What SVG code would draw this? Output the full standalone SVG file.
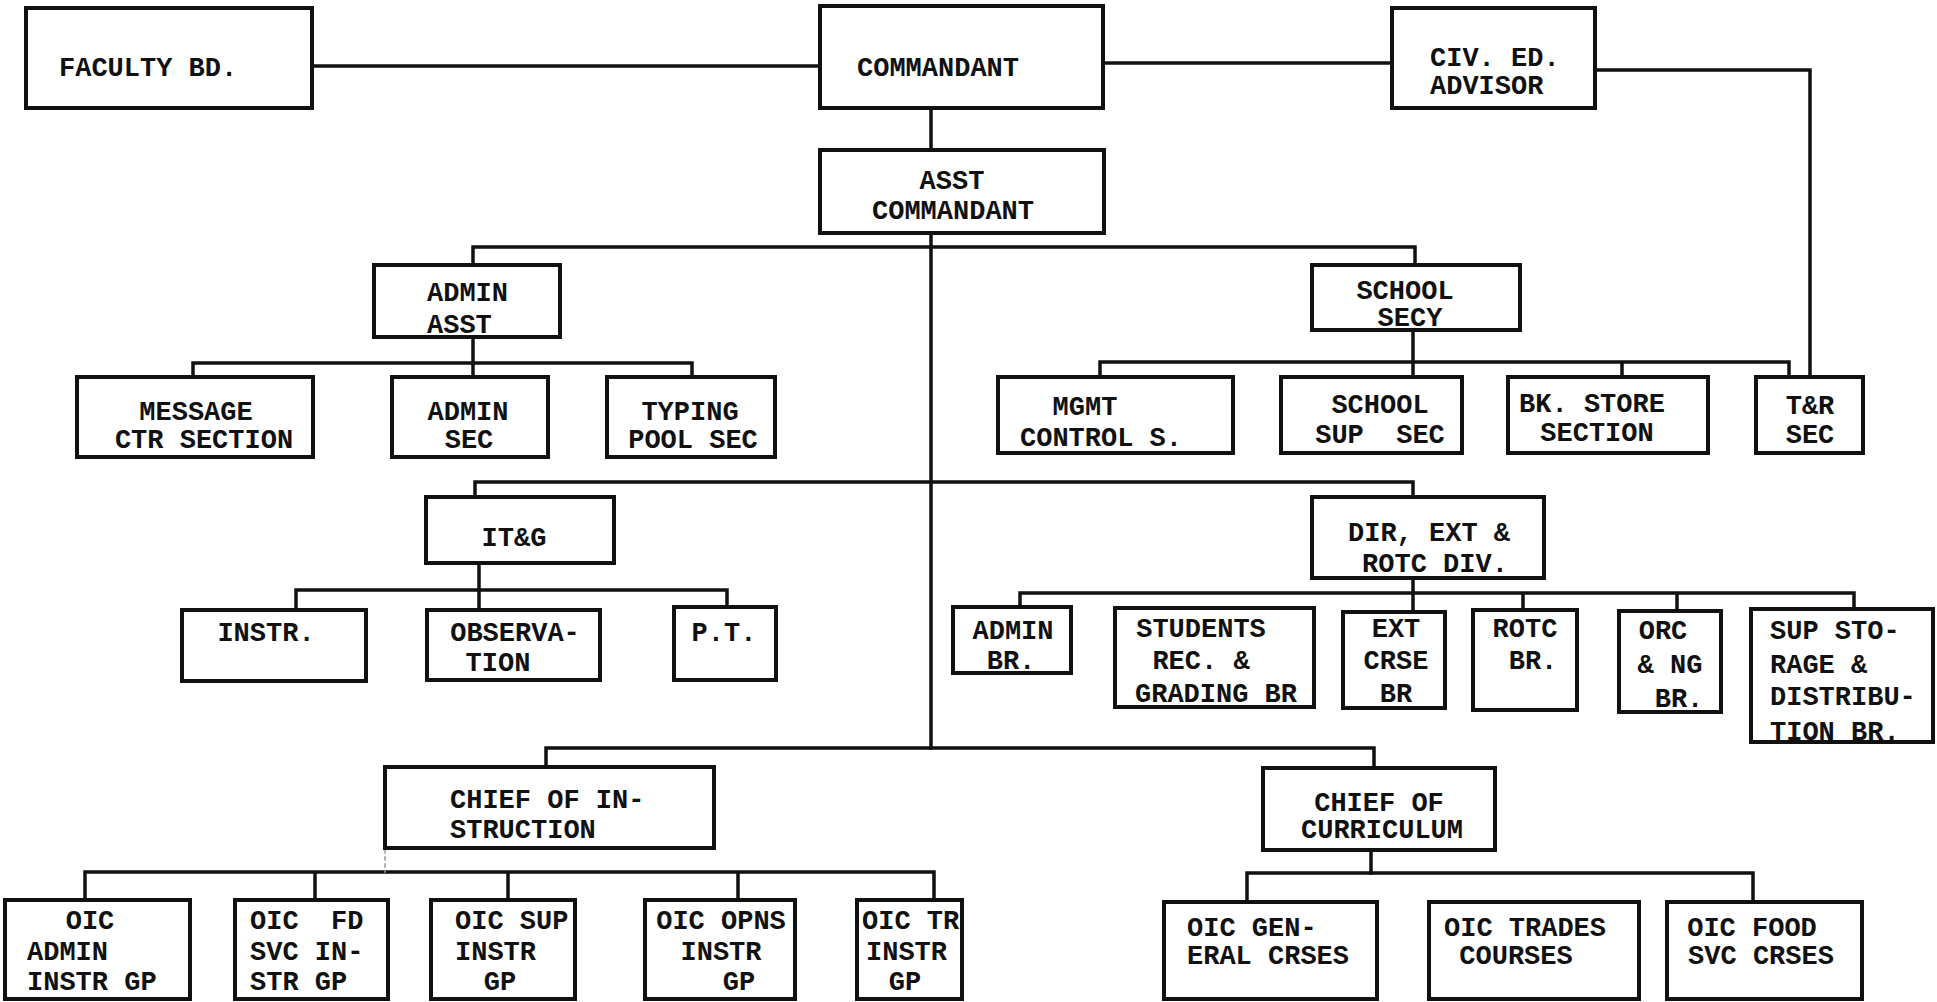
<svg xmlns="http://www.w3.org/2000/svg" width="1937" height="1002" viewBox="0 0 1937 1002">
<style>
rect.box{fill:#fff;stroke:#111;stroke-width:4}
.conn path{fill:none;stroke:#111;stroke-width:3.5;stroke-linecap:square}
text{font-family:"Liberation Mono","DejaVu Sans Mono",monospace;font-size:27px;font-weight:bold;fill:#111;white-space:pre}
.c{text-anchor:middle}
</style>
<rect width="1937" height="1002" fill="#fff"/>
<g class="conn" id="connectors">
<path d="M312,66 H820"/>
<path d="M1103,63 H1392"/>
<path d="M1595,70 H1810 V377"/>
<path d="M931,108 V150"/>
<path d="M931,233 V748"/>
<path d="M473,265 V247 H1415 V265"/>
<path d="M473,337 V363"/>
<path d="M193,377 V363 H692 V377 M473,363 V377"/>
<path d="M1413,330 V362"/>
<path d="M1100,377 V362 H1789 V377 M1413,362 V377 M1622,362 V377"/>
<path d="M475,497 V482 H1413 V497"/>
<path d="M479,563 V590"/>
<path d="M296,610 V590 H727 V607 M479,590 V610"/>
<path d="M1413,578 V612"/>
<path d="M1020,607 V593 H1854 V609 M1523,593 V610 M1677,593 V611"/>
<path d="M546,767 V748 H1374 V768"/>
<path d="M85,900 V872 H934 V900 M315,872 V900 M508,872 V900 M738,872 V900"/>
<path d="M1371,850 V873"/>
<path d="M1247,902 V873 H1753 V902"/>
<path d="M385,850 V872" style="stroke:#999;stroke-width:1.5;stroke-dasharray:3 4"/>
</g>
<g id="faculty"><rect class="box" x="26" y="8" width="286" height="100"/><text x="59" y="76">FACULTY BD.</text></g>
<g id="commandant"><rect class="box" x="820" y="6" width="283" height="102"/><text x="857" y="76">COMMANDANT</text></g>
<g id="civ"><rect class="box" x="1392" y="8" width="203" height="100"/><text x="1430" y="66">CIV. ED.</text><text x="1430" y="94">ADVISOR</text></g>
<g id="asst"><rect class="box" x="820" y="150" width="284" height="83"/><text class="c" x="952" y="189">ASST</text><text class="c" x="953" y="219">COMMANDANT</text></g>
<g id="admin_asst"><rect class="box" x="374" y="265" width="186" height="72"/><text x="427" y="301">ADMIN</text><text x="427" y="333">ASST</text></g>
<g id="message"><rect class="box" x="77" y="377" width="236" height="80"/><text class="c" x="196" y="420">MESSAGE</text><text class="c" x="204" y="448">CTR SECTION</text></g>
<g id="admin_sec"><rect class="box" x="392" y="377" width="156" height="80"/><text class="c" x="468" y="420">ADMIN</text><text class="c" x="469" y="448">SEC</text></g>
<g id="typing"><rect class="box" x="607" y="377" width="168" height="80"/><text class="c" x="690" y="420">TYPING</text><text class="c" x="693" y="448">POOL SEC</text></g>
<g id="school_secy"><rect class="box" x="1312" y="265" width="208" height="65"/><text class="c" x="1405" y="299">SCHOOL</text><text class="c" x="1410" y="326">SECY</text></g>
<g id="mgmt"><rect class="box" x="998" y="377" width="235" height="76"/><text class="c" x="1085" y="415">MGMT</text><text class="c" x="1101" y="446">CONTROL S.</text></g>
<g id="school_sup"><rect class="box" x="1281" y="377" width="181" height="76"/><text class="c" x="1380" y="413">SCHOOL</text><text class="c" x="1380" y="443">SUP  SEC</text></g>
<g id="bk_store"><rect class="box" x="1508" y="377" width="200" height="76"/><text class="c" x="1592" y="412">BK. STORE</text><text class="c" x="1597" y="441">SECTION</text></g>
<g id="tr_sec"><rect class="box" x="1756" y="377" width="107" height="76"/><text class="c" x="1810" y="414">T&amp;R</text><text class="c" x="1810" y="443">SEC</text></g>
<g id="itg"><rect class="box" x="426" y="497" width="188" height="66"/><text class="c" x="514" y="546">IT&amp;G</text></g>
<g id="instr"><rect class="box" x="182" y="610" width="184" height="71"/><text class="c" x="266" y="641">INSTR.</text></g>
<g id="observation"><rect class="box" x="427" y="610" width="173" height="70"/><text class="c" x="515" y="641">OBSERVA-</text><text class="c" x="498" y="671">TION</text></g>
<g id="pt"><rect class="box" x="674" y="607" width="102" height="73"/><text class="c" x="724" y="641">P.T.</text></g>
<g id="dir"><rect class="box" x="1312" y="497" width="232" height="81"/><text class="c" x="1429" y="541">DIR, EXT &amp;</text><text class="c" x="1435" y="572">ROTC DIV.</text></g>
<g id="admin_br"><rect class="box" x="953" y="607" width="118" height="66"/><text class="c" x="1013" y="639">ADMIN</text><text class="c" x="1011" y="669">BR.</text></g>
<g id="students"><rect class="box" x="1115" y="608" width="199" height="99"/><text class="c" x="1201" y="637">STUDENTS</text><text class="c" x="1201" y="669">REC. &amp;</text><text class="c" x="1216" y="702">GRADING BR</text></g>
<g id="ext"><rect class="box" x="1343" y="612" width="102" height="96"/><text class="c" x="1396" y="637">EXT</text><text class="c" x="1396" y="669">CRSE</text><text class="c" x="1396" y="702">BR</text></g>
<g id="rotc"><rect class="box" x="1473" y="610" width="104" height="100"/><text class="c" x="1525" y="637">ROTC</text><text class="c" x="1533" y="669">BR.</text></g>
<g id="orc"><rect class="box" x="1619" y="611" width="102" height="101"/><text class="c" x="1663" y="639">ORC</text><text class="c" x="1670" y="673">&amp; NG</text><text class="c" x="1679" y="707">BR.</text></g>
<g id="sup_storage"><rect class="box" x="1751" y="609" width="182" height="133"/><text x="1770" y="639">SUP STO-</text><text x="1770" y="673">RAGE &amp;</text><text x="1770" y="705">DISTRIBU-</text><text x="1770" y="740">TION BR.</text></g>
<g id="chief_instr"><rect class="box" x="385" y="767" width="329" height="81"/><text x="450" y="808">CHIEF OF IN-</text><text x="450" y="838">STRUCTION</text></g>
<g id="chief_curr"><rect class="box" x="1263" y="768" width="232" height="82"/><text class="c" x="1379" y="811">CHIEF OF</text><text class="c" x="1382" y="838">CURRICULUM</text></g>
<g id="oic_admin"><rect class="box" x="5" y="900" width="185" height="99"/><text class="c" x="90" y="929">OIC</text><text x="27" y="960">ADMIN</text><text x="27" y="990">INSTR GP</text></g>
<g id="oic_fd"><rect class="box" x="235" y="900" width="153" height="99"/><text x="250" y="929">OIC  FD</text><text x="250" y="960">SVC IN-</text><text x="250" y="990">STR GP</text></g>
<g id="oic_sup"><rect class="box" x="431" y="900" width="144" height="99"/><text x="455" y="929">OIC SUP</text><text x="455" y="960">INSTR</text><text class="c" x="500" y="990">GP</text></g>
<g id="oic_opns"><rect class="box" x="645" y="900" width="150" height="99"/><text class="c" x="721" y="929">OIC OPNS</text><text class="c" x="721" y="960">INSTR</text><text class="c" x="739" y="990">GP</text></g>
<g id="oic_tr"><rect class="box" x="857" y="900" width="105" height="99"/><text x="862" y="929">OIC TR</text><text x="866" y="960">INSTR</text><text class="c" x="905" y="990">GP</text></g>
<g id="oic_gen"><rect class="box" x="1164" y="902" width="213" height="97"/><text x="1187" y="936">OIC GEN-</text><text x="1187" y="964">ERAL CRSES</text></g>
<g id="oic_trades"><rect class="box" x="1429" y="902" width="210" height="97"/><text class="c" x="1525" y="936">OIC TRADES</text><text class="c" x="1516" y="964">COURSES</text></g>
<g id="oic_food"><rect class="box" x="1667" y="902" width="195" height="97"/><text class="c" x="1752" y="936">OIC FOOD</text><text class="c" x="1761" y="964">SVC CRSES</text></g>
</svg>
